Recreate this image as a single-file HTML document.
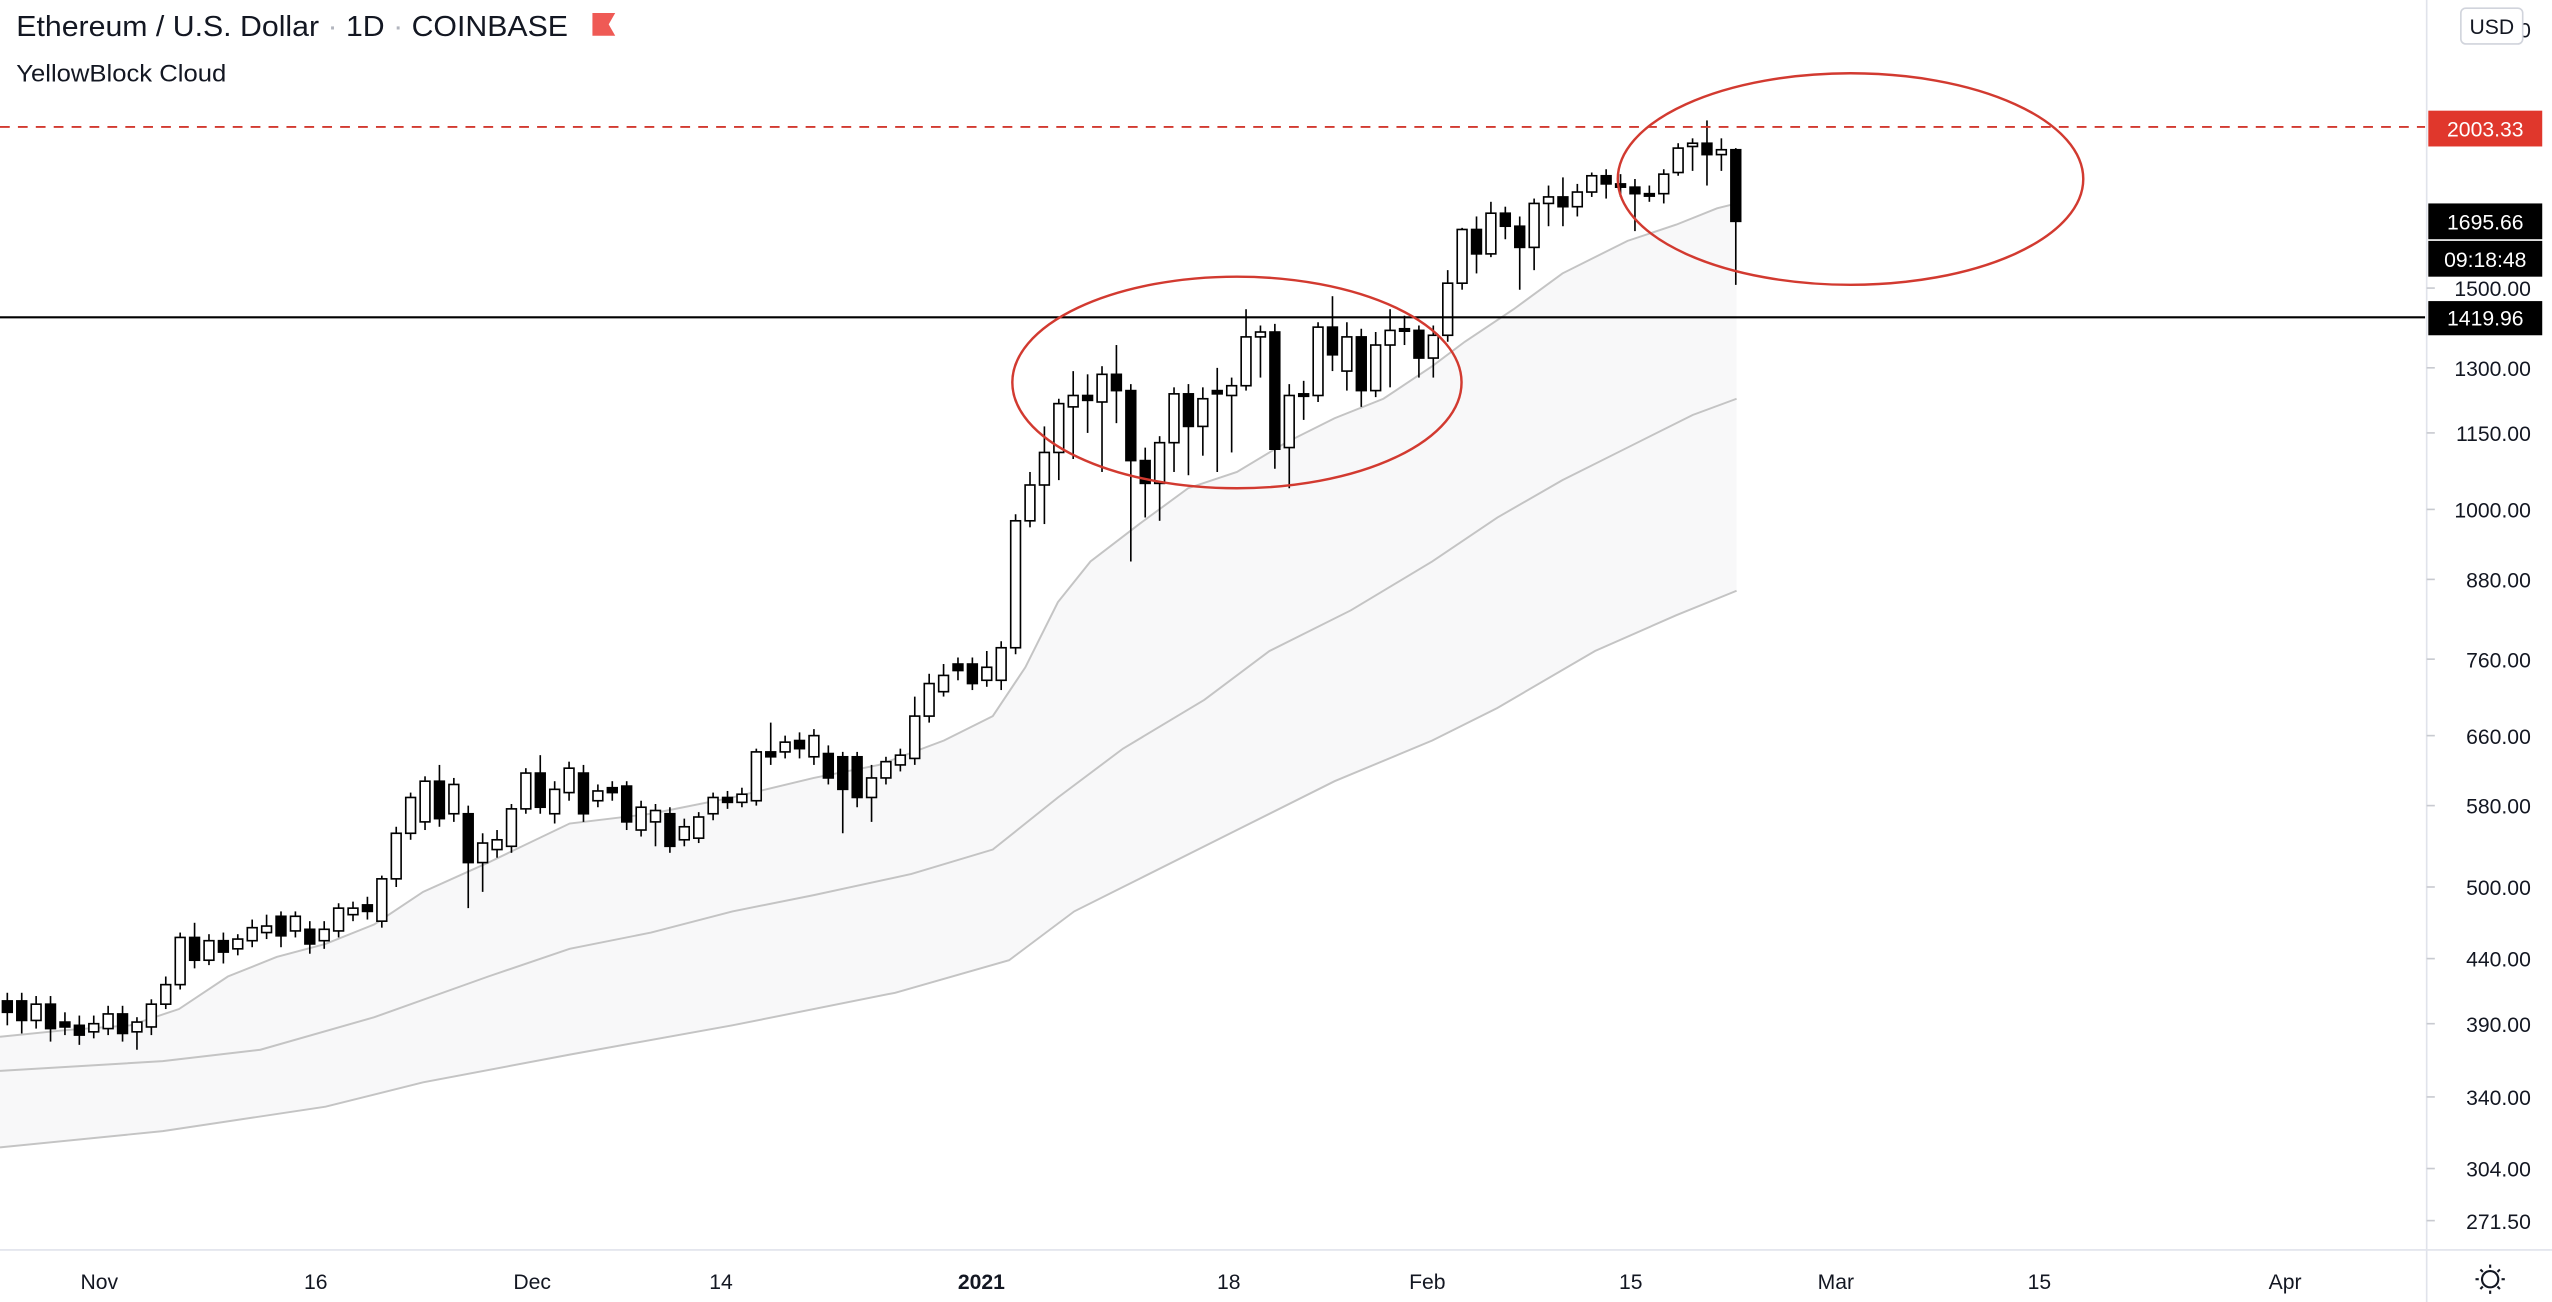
<!DOCTYPE html>
<html><head><meta charset="utf-8"><style>
html,body{margin:0;padding:0;background:#fff;overflow:hidden}
svg{display:block}
text{font-family:"Liberation Sans",sans-serif}
</style></head><body>
<svg id="c" width="2552" height="1302" viewBox="0 0 1568 800" preserveAspectRatio="none" xmlns="http://www.w3.org/2000/svg">
<rect width="1568" height="800" fill="#fff"/>
<path id="fill" fill="#f8f8f9" stroke="none"/>
<polyline id="l1" fill="none" stroke="#c4c4c4" stroke-width="1.2"/>
<polyline id="l2" fill="none" stroke="#c4c4c4" stroke-width="1.2"/>
<polyline id="l3" fill="none" stroke="#c4c4c4" stroke-width="1.2"/>
<g id="candles"></g>
<line x1="0" y1="195" x2="1490" y2="195" stroke="#000" stroke-width="1.3"/>
<line x1="0" y1="78" x2="1490" y2="78" stroke="#d23a30" stroke-width="1.2" stroke-dasharray="6,5"/>
<ellipse cx="760" cy="235" rx="138" ry="65" fill="none" stroke="#d23a30" stroke-width="1.5"/>
<ellipse cx="1137" cy="110" rx="143" ry="65" fill="none" stroke="#d23a30" stroke-width="1.5"/>
<line x1="1491" y1="0" x2="1491" y2="800" stroke="#e0e3eb" stroke-width="1"/>
<line x1="0" y1="768" x2="1568" y2="768" stroke="#e0e3eb" stroke-width="1"/>
<text x="10" y="22" font-size="17.5" fill="#131722" textLength="339" lengthAdjust="spacingAndGlyphs">Ethereum / U.S. Dollar <tspan fill="#b2b5be">·</tspan> 1D <tspan fill="#b2b5be">·</tspan> COINBASE</text>
<path d="M364 8 h14 l-4 7 l4 7 h-14z" fill="#ef5a55"/>
<text x="10" y="50" font-size="15" fill="#131722" textLength="129" lengthAdjust="spacingAndGlyphs">YellowBlock Cloud</text>
<g stroke="#c8cad0" stroke-width="1">
<line x1="1491" y1="177" x2="1496" y2="177"/><line x1="1491" y1="226" x2="1496" y2="226"/><line x1="1491" y1="266" x2="1496" y2="266"/><line x1="1491" y1="313" x2="1496" y2="313"/><line x1="1491" y1="356" x2="1496" y2="356"/><line x1="1491" y1="405" x2="1496" y2="405"/><line x1="1491" y1="452" x2="1496" y2="452"/><line x1="1491" y1="495" x2="1496" y2="495"/><line x1="1491" y1="545" x2="1496" y2="545"/><line x1="1491" y1="589" x2="1496" y2="589"/><line x1="1491" y1="629" x2="1496" y2="629"/><line x1="1491" y1="674" x2="1496" y2="674"/><line x1="1491" y1="718" x2="1496" y2="718"/><line x1="1491" y1="750" x2="1496" y2="750"/>
</g>
<g font-size="13" fill="#131722" text-anchor="end">
<text x="1555" y="23">2000</text>
<text x="1555" y="182">1500.00</text>
<text x="1555" y="231">1300.00</text>
<text x="1555" y="271">1150.00</text>
<text x="1555" y="318">1000.00</text>
<text x="1555" y="361">880.00</text>
<text x="1555" y="410">760.00</text>
<text x="1555" y="457">660.00</text>
<text x="1555" y="500">580.00</text>
<text x="1555" y="550">500.00</text>
<text x="1555" y="594">440.00</text>
<text x="1555" y="634">390.00</text>
<text x="1555" y="679">340.00</text>
<text x="1555" y="723">304.00</text>
<text x="1555" y="755">271.50</text>
</g>
<rect x="1512" y="5" width="38" height="22" rx="3" fill="#fff" stroke="#d1d4dc"/>
<text x="1531" y="21" font-size="13" text-anchor="middle" fill="#131722">USD</text>
<rect x="1492" y="68" width="70" height="22" fill="#e0372c"/>
<text x="1527" y="84" font-size="13" text-anchor="middle" fill="#fff">2003.33</text>
<rect x="1492" y="125" width="70" height="22" fill="#000"/>
<text x="1527" y="141" font-size="13" text-anchor="middle" fill="#fff">1695.66</text>
<rect x="1492" y="148" width="70" height="22" fill="#000"/>
<text x="1527" y="164" font-size="13" text-anchor="middle" fill="#fff">09:18:48</text>
<rect x="1492" y="185" width="70" height="21" fill="#000"/>
<text x="1527" y="200" font-size="13" text-anchor="middle" fill="#fff">1419.96</text>
<g font-size="13" fill="#131722" text-anchor="middle">
<text x="61" y="792">Nov</text><text x="194" y="792">16</text><text x="327" y="792">Dec</text>
<text x="443" y="792">14</text><text x="603" y="792" font-weight="bold">2021</text><text x="755" y="792">18</text>
<text x="877" y="792">Feb</text><text x="1002" y="792">15</text><text x="1128" y="792">Mar</text>
<text x="1253" y="792">15</text><text x="1404" y="792">Apr</text>
</g>
<circle cx="1530" cy="786" r="5" fill="none" stroke="#131722" stroke-width="1.3"/>
<g stroke="#131722" stroke-width="1.3"><line x1="1530" y1="777" x2="1530" y2="779"/><line x1="1530" y1="793" x2="1530" y2="795"/><line x1="1521" y1="786" x2="1523" y2="786"/><line x1="1537" y1="786" x2="1539" y2="786"/><line x1="1524" y1="780" x2="1525.5" y2="781.5"/><line x1="1536" y1="780" x2="1534.5" y2="781.5"/><line x1="1524" y1="792" x2="1525.5" y2="790.5"/><line x1="1536" y1="792" x2="1534.5" y2="790.5"/></g>
</svg>
<script>
var C=[
[615,622,610,630,1],[615,627,610,635,1],[617,627,612,632,0],[617,632,612,640,1],[628,631,622,636,1],[630,636,624,642,1],[629,634,624,638,0],[623,632,618,636,0],[623,635,618,640,1],[628,634,625,645,0],[617,631,614,636,0],[605,617,600,620,0],[576,605,573,608,0],[576,590,567,595,1],[578,590,574,593,0],[578,585,573,592,1],[577,583,574,587,0],[570,578,565,582,0],[569,573,562,577,0],[563,575,560,582,1],[563,572,560,576,0],[571,580,566,586,1],[571,578,566,583,0],[558,572,555,576,0],[558,562,554,566,0],[556,560,551,565,1],[540,566,538,570,0],[512,540,508,545,0],[490,512,487,516,0],[480,505,477,510,0],[480,503,470,508,1],[482,500,478,505,0],[500,530,495,558,1],[518,530,512,548,0],[516,522,510,527,0],[497,520,494,524,0],[475,497,472,500,0],[475,496,464,500,1],[485,500,480,506,0],[472,487,468,492,0],[475,500,470,505,1],[486,492,482,496,0],[484,487,480,492,1],[483,505,480,510,1],[496,510,492,514,0],[498,505,494,520,0],[500,520,496,524,1],[508,516,503,520,0],[502,515,499,518,0],[490,500,487,504,0],[490,493,486,497,1],[488,493,484,496,0],[462,492,460,495,0],[462,465,444,470,1],[456,462,452,466,0],[455,460,450,466,1],[452,465,448,470,0],[463,478,458,482,1],[465,485,462,512,1],[465,490,462,496,1],[478,490,470,505,0],[468,478,465,482,0],[464,470,460,474,0],[440,466,428,470,0],[420,440,414,444,0],[415,425,408,428,0],[408,412,404,418,1],[408,420,404,424,1],[410,418,400,422,0],[398,418,394,424,0],[320,398,316,402,0],[298,320,290,324,0],[278,298,262,322,0],[248,278,245,295,0],[243,250,228,282,0],[243,246,230,266,1],[230,247,225,290,0],[230,240,212,260,1],[240,283,236,345,1],[283,297,275,318,1],[272,297,268,320,0],[242,272,238,290,0],[242,262,236,292,1],[245,262,238,280,0],[240,242,226,290,1],[237,243,232,278,0],[207,237,190,240,0],[204,207,200,232,0],[204,276,199,288,1],[243,275,236,300,0],[242,243,234,258,1],[201,243,198,247,0],[201,218,182,228,1],[207,228,198,240,0],[207,240,202,250,1],[212,240,204,244,0],[203,212,190,238,0],[202,203,194,212,1],[203,220,200,232,1],[206,220,200,232,0],[174,206,166,210,0],[141,174,140,178,0],[141,156,133,168,1],[131,156,124,158,0],[131,139,127,147,1],[139,152,133,178,1],[125,152,122,166,0],[121,125,114,139,0],[121,127,109,139,1],[118,127,113,133,0],[108,118,106,121,0],[108,113,104,122,1],[113,115,107,121,1],[115,119,110,142,1],[119,120,114,124,1],[107,119,104,125,0],[91,106,88,108,0],[88,90,85,105,0],[88,95,74,114,1],[92,95,85,105,0],[92,136,91,175,1]];
var g=document.getElementById('candles'),s='';
var N=C.length,last=1066.5,dx=8.85;
for(var i=0;i<N;i++){var x=last-(N-1-i)*dx,c=C[i],t=Math.min(c[0],c[1]),b=Math.max(c[0],c[1]);if(b-t<1.5)b=t+1.5;
s+='<line x1="'+x+'" y1="'+c[2]+'" x2="'+x+'" y2="'+c[3]+'" stroke="#000" stroke-width="1"/>';
s+='<rect x="'+(x-3)+'" y="'+t+'" width="6" height="'+(b-t)+'" fill="'+(c[4]?'#000':'#fff')+'" stroke="#000" stroke-width="1"/>';}
g.innerHTML=s;
var L1=[[0,637],[40,633],[80,630],[110,620],[140,600],[170,588],[200,580],[230,568],[260,548],[300,530],[350,506],[400,500],[450,490],[500,478],[540,470],[580,455],[610,440],[630,410],[650,370],[670,345],[700,322],[730,300],[760,290],[790,272],[820,257],[850,245],[880,225],[900,210],[930,190],[960,168],[1000,148],[1030,138],[1055,128],[1067,125]];
var L2=[[0,658],[100,652],[160,645],[230,625],[300,600],[350,583],[400,573],[450,560],[500,550],[560,537],[610,522],[650,490],[690,460],[740,430],[780,400],[830,375],[880,345],[920,318],[960,295],[1000,275],[1040,255],[1067,245]];
var L3=[[0,705],[100,695],[200,680],[260,665],[350,648],[450,630],[550,610],[620,590],[660,560],[700,540],[760,510],[820,480],[880,455],[920,435],[980,400],[1030,378],[1067,363]];
function pts(a){return a.map(function(p){return p.join(',')}).join(' ')}
document.getElementById('l1').setAttribute('points',pts(L1));
document.getElementById('l2').setAttribute('points',pts(L2));
document.getElementById('l3').setAttribute('points',pts(L3));
var d='M'+pts(L1)+' L'+pts(L3.slice().reverse())+'Z';
document.getElementById('fill').setAttribute('d',d);
</script>
</body></html>
